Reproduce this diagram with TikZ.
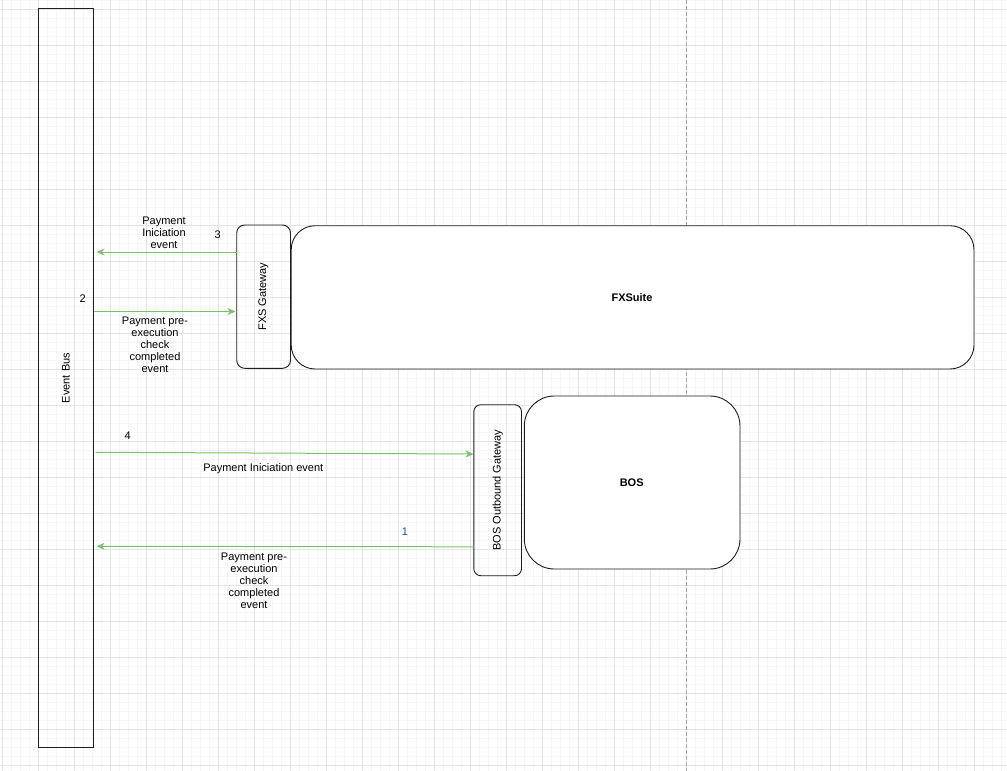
\documentclass[tikz,border=0pt]{standalone}
\usepackage{fontspec}
\setmainfont{Liberation Sans}
\usetikzlibrary{arrows.meta,calc}
\definecolor{gridminor}{RGB}{246,246,246}
\definecolor{gridmajor}{RGB}{228,228,228}
\definecolor{edgegreen}{RGB}{122,194,106}
\definecolor{boxline}{RGB}{30,30,30}
\definecolor{numblue}{RGB}{20,90,170}
\tikzset{
  minorline/.style={draw=gridminor, line width=0.8pt},
  majorline/.style={draw=gridmajor, line width=0.9pt},
  lbl/.style={font=\fontsize{11}{12}\selectfont, align=center, inner sep=0pt},
  boxs/.style={draw=boxline, line width=0.9pt, inner sep=0pt},
  arr/.style={draw=edgegreen, line width=1pt, -{Stealth[length=8pt,width=7pt,inset=2.5pt]}},
}
\begin{document}
\begin{tikzpicture}[x=1pt,y=-1pt]
\useasboundingbox (0,0) rectangle (1007,771);
\fill[white] (0,0) rectangle (1007,771);
% grid
\foreach \i in {0,...,111} \draw[minorline] ({2.7+9*\i},0) -- ({2.7+9*\i},771);
\foreach \j in {0,...,85} \draw[minorline] (0,{0.3+9*\j}) -- (1007,{0.3+9*\j});
\foreach \i in {0,...,27} \draw[majorline] ({2.7+36*\i},0) -- ({2.7+36*\i},771);
\foreach \j in {0,...,21} \draw[majorline] (0,{9.3+36*\j}) -- (1007,{9.3+36*\j});
% page break line
\draw[draw=gray!70, line width=0.9pt, dash pattern=on 4pt off 2pt] (686.7,0) -- (686.7,771);

% boxes
\draw[boxs] (38.7,8.7) rectangle (93,747) coordinate (busbr);
\coordinate (bus) at (65.8,378);
\node[lbl, rotate=90] (buslbl) at (bus) {Event Bus};

\draw[boxs, rounded corners=8pt] (236.7,225) rectangle (290.5,368.3);
\node[lbl, rotate=90] (fxsgw) at (263.5,296.6) {FXS Gateway};

\draw[boxs, fill=white, rounded corners=24pt] (291.2,225.7) rectangle (974,369);
\node[lbl, font=\fontsize{11}{12}\selectfont\bfseries] (fxsuite) at (632,298) {FXSuite};

\draw[boxs, rounded corners=7pt] (473.8,404.7) rectangle (521.5,575.7);
\node[lbl, rotate=90] (bosgw) at (497.7,490.2) {BOS Outbound Gateway};

\draw[boxs, fill=white, rounded corners=30pt] (524.3,396) rectangle (740,569);
\node[lbl, font=\fontsize{11}{12}\selectfont\bfseries] (bos) at (631.7,482.7) {BOS};

% connector endpoints
\coordinate (a3s) at (236.7,252);
\coordinate (a3e) at (96.5,252);
\coordinate (a2s) at (93.5,311.5);
\coordinate (a2e) at (235.5,311.5);
\coordinate (a4s) at (95.5,452.3);
\coordinate (a4e) at (473.5,454);
\coordinate (a1s) at (473.8,546.8);
\coordinate (a1e) at (96.5,546.3);

\draw[arr] (a3s) -- (a3e);
\draw[arr] (a2s) -- (a2e);
\draw[arr] (a4s) -- (a4e);
\draw[arr] (a1s) -- (a1e);

% labels
\node[lbl] (l3) at (164,232.3) {Payment\\Iniciation\\event};
\node[lbl] (n3) at (217.7,234.7) {3};
\node[lbl] (n2) at (82.7,299) {2};
\node[lbl] (l2) at (155,344.3) {Payment pre-\\execution\\check\\completed\\event};
\node[lbl] (n4) at (127.7,436) {4};
\node[lbl] (l4) at (263.3,468.3) {Payment Iniciation event};
\node[lbl, text=numblue] (n1) at (405,531.7) {1};
\node[lbl] (l1) at (254,580.3) {Payment pre-\\execution\\check\\completed\\event};
\end{tikzpicture}
\end{document}
